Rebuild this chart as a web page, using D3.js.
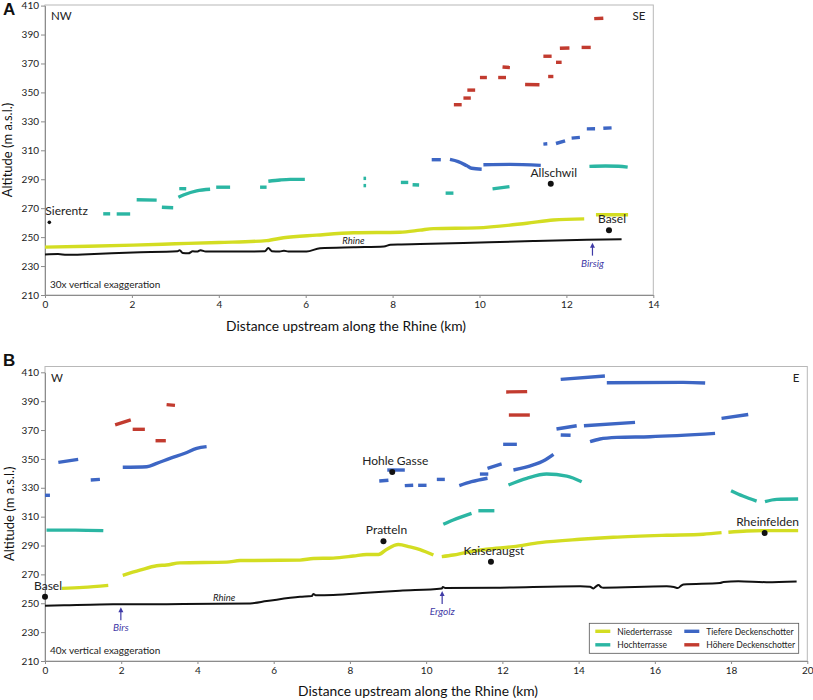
<!DOCTYPE html>
<html><head><meta charset="utf-8">
<script src="https://cdn.jsdelivr.net/npm/d3@7"></script>
<style>
body{margin:0;background:#fff}
svg{display:block}
text{font-family:Lato,"Open Sans",sans-serif}
</style>
</head><body>
<svg id="c" width="813" height="700"></svg>
<script>
// ---------- tick labels ----------
const altTicks = [210,230,250,270,290,310,330,350,370,390,410];
const aDistTicks = [0,2,4,6,8,10,12,14];
const bDistTicks = [0,2,4,6,8,10,12,14,16,18,20];

// ---------- legend categories ----------
const seriesNames = ["Niederterrasse","Hochterrasse","Tiefere Deckenschotter","Höhere Deckenschotter"];
const seriesColors = ["#d3dd22","#2bb6a3","#3d66c4","#c23b2f"];

// ---------- Panel A (NW–SE) : [distance km, altitude m] ----------
const aNieder = [
  [[0,243.1],[1,243.7],[2.03,244.5],[3,245.4],[4,246.3],[5.1,247.6],[5.49,249.6],[6.25,251.4],[7.1,253],[8.17,253.4],[8.63,254.8],[8.94,255.9],[9.94,256.4],[11.09,259.6],[11.7,261.8],[12.41,262.6]],
  [[12.68,265.5],[13.42,265.5]]
];
const aHoch = [
  [[1.34,266.1],[1.50,266.1]],
  [[1.65,266],[1.96,266]],
  [[2.11,275.8],[2.57,275.6]],
  [[2.69,270.6],[2.95,270.3]],
  [[3.09,283.5],[3.25,283.4]],
  [[3.07,277.6],[3.2,279.3],[3.49,282],[3.80,283.1]],
  [[3.94,284.5],[4.26,284.5]],
  [[4.95,284.5],[5.10,284.5]],
  [[5.14,288.6],[5.41,289.5],[5.64,289.9],[5.98,289.9]],
  [[7.33,290.6],[7.39,290.6]],
  [[7.33,285.6],[7.39,285.6]],
  [[8.19,287.8],[8.36,287.8]],
  [[8.46,286.2],[8.61,286]],
  [[9.22,280.4],[9.40,280.4]],
  [[10.30,283.3],[10.69,284.9]],
  [[12.53,298.9],[12.9,299.2],[13.2,299],[13.41,298.4]]
];
const aTiefere = [
  [[8.90,303.5],[9.11,303.5]],
  [[9.32,303.7],[9.51,302.2],[9.71,299.3],[9.82,297.6],[10.05,296.9]],
  [[10.09,300],[10.7,300.3],[11.41,299.6]],
  [[11.47,314.3],[11.56,314.5]],
  [[11.76,314.7],[11.97,316.5]],
  [[12.12,318.4],[12.31,318.9]],
  [[12.47,324.8],[12.66,324.9]],
  [[12.85,325.2],[13.04,325.5]]
];
const aHohere = [
  [[9.41,341.5],[9.59,341.5]],
  [[9.63,346.1],[9.80,346.1]],
  [[9.72,351.6],[9.90,351.6]],
  [[10.01,360.3],[10.17,360.3]],
  [[10.43,360.3],[10.61,360.3]],
  [[10.53,367.6],[10.70,367.2]],
  [[11.05,355.5],[11.38,355.3]],
  [[11.47,375],[11.66,375]],
  [[11.58,361],[11.70,361]],
  [[11.76,370.8],[11.89,370.8]],
  [[11.85,380.5],[12.07,380.7]],
  [[12.35,381.1],[12.56,381.1]],
  [[12.64,401],[12.85,401.3]]
];
const aRhine = [[0,238],[0.3,238.3],[0.5,237.8],[1,238.2],[2.03,239.4],[3.05,240.2],[3.1,241],[3.17,239],[3.3,238.8],[3.4,240.2],[3.5,240],[3.58,241],[3.7,240],[4.5,240],[5.06,240.2],[5.14,242.4],[5.22,240.3],[5.4,240],[5.5,240.6],[5.6,240],[6.02,240.1],[6.33,242.3],[7.1,243],[7.8,243.5],[7.95,244.7],[8.2,244.9],[8.63,245.2],[9.63,246],[11.24,247.3],[12.47,248.2],[13.27,248.6]];
const aPlaces = [{name:"Sierentz",d:0.1,alt:260.2,small:true},{name:"Allschwil",d:11.64,alt:286.8},{name:"Basel",d:12.98,alt:254.7}];
const aTribs = [{name:"Birsig",d:12.6}];

// ---------- Panel B (W–E) ----------
const bNieder = [
  [[0.44,260.3],[1.0,261],[1.66,262.4]],
  [[2.04,269.3],[2.49,272.9],[2.93,276],[3.19,276.5],[3.54,278],[4.77,278.5],[5.12,279.6],[6.69,279.9],[7.04,281],[7.56,281.3],[8.09,282.7],[8.44,283.8],[8.75,283.8],[8.96,287.3],[9.27,290.7],[9.57,289.1],[9.84,287.2],[10.19,283.4]],
  [[10.41,282.3],[10.71,283.4],[11.06,285.3],[11.59,287.4],[12.29,289.2],[12.99,292],[14.04,294.3],[14.91,295.7],[16.31,297.1],[17.27,297.8],[17.75,298.9]],
  [[17.93,299.2],[18.41,300.1],[18.93,300.3],[19.76,300.3]]
];
const bHoch = [
  [[0.04,300.7],[0.8,300.7],[1.53,300.3]],
  [[10.45,304.7],[10.71,307.7],[11.19,312.3]],
  [[11.37,314.1],[11.79,314.1]],
  [[12.16,331.9],[12.64,336.5],[13.16,339.5],[13.69,338.1],[14.08,334.2]],
  [[18.0,328],[18.31,324.3],[18.67,320.8]],
  [[18.89,320.4],[19.2,322],[19.76,322.2]]
];
const bTiefere = [
  [[0,324.8],[0.13,324.8]],
  [[0.35,347.6],[0.87,349.7]],
  [[1.2,335.4],[1.44,335.8]],
  [[2.04,344.2],[2.67,344.6],[2.93,346.9],[3.28,350.4],[3.67,353.9],[3.98,357.3],[4.24,358.5]],
  [[8.77,334.7],[9.01,335.2]],
  [[8.98,342.3],[9.44,342.3]],
  [[9.44,331.5],[9.66,331.8]],
  [[9.79,331.7],[10.01,331.7]],
  [[10.28,335.8],[10.49,335.8]],
  [[10.87,331.5],[11.19,334.2],[11.61,336.6]],
  [[11.41,339.5],[11.63,339.5]],
  [[11.61,343.5],[11.98,346.5]],
  [[12.02,360.1],[12.38,360.1]],
  [[12.29,342.3],[12.81,345.8],[13.07,348.5],[13.34,353.2]],
  [[13.42,370.7],[13.95,373]],
  [[13.53,366.6],[13.79,366.4]],
  [[14.14,373],[15.48,375.3]],
  [[14.3,361.9],[14.56,363.8],[15.0,364.9],[15.87,365.4],[17.58,367.7]],
  [[17.75,378.1],[18.45,380.8]],
  [[13.53,405.1],[14.69,407.4]],
  [[14.74,402.8],[16.75,403],[17.32,402.6]]
];
const bHohere = [
  [[1.84,373.5],[2.25,377]],
  [[2.3,370.5],[2.62,370.5]],
  [[2.9,362.6],[3.17,362.6]],
  [[3.19,387.6],[3.41,387.1]],
  [[12.1,396.4],[12.65,396.6]],
  [[12.17,380.4],[12.72,380.4]]
];
const bRhine = [[0,248.3],[0.5,248.6],[1.44,249.2],[3.19,249.4],[5.38,249.9],[5.82,251.5],[6.69,254.5],[7.0,255],[7.04,256.5],[7.1,255.6],[7.56,255.8],[8.44,257.2],[9.31,258.7],[10.41,260.3],[10.44,261.3],[10.5,260.5],[11.94,260.8],[14.04,261.7],[14.3,261.4],[14.39,260.3],[14.45,261.5],[14.52,262.6],[14.6,261],[14.65,260.8],[16.31,261.7],[16.5,261.3],[16.6,260.5],[16.7,262.4],[16.75,263],[17.71,264],[17.8,264.8],[18.19,265.3],[18.93,264.6],[19.72,265.1]];
const bPlaces = [{name:"Basel",d:0,alt:254.5},{name:"Pratteln",d:8.88,alt:292.9},{name:"Hohle Gasse",d:9.11,alt:340.9},{name:"Kaiseraugst",d:11.7,alt:278.8},{name:"Rheinfelden",d:18.88,alt:298.7}];
const bTribs = [{name:"Birs",d:1.99},{name:"Ergolz",d:10.42}];

// ---------- drawing ----------
const svg = d3.select("#c");
const tribColor = "#3f3aa6";

function drawPanel(p){
  const x = d3.scaleLinear().domain([0,p.xMax]).range([p.x0,p.x1]);
  const y = d3.scaleLinear().domain([210,410]).range([p.y1,p.y0]);
  const g = svg.append("g");

  g.append("rect").attr("x",p.x0).attr("y",p.frameTop)
    .attr("width",p.x1-p.x0).attr("height",p.y1-p.frameTop)
    .attr("fill","none").attr("stroke","#b8b8b8").attr("stroke-width",1);

  const ya = g.append("g").attr("transform",`translate(${p.x0},0)`)
    .call(d3.axisLeft(y).tickValues(altTicks).tickSize(4).tickSizeOuter(0).tickPadding(2));
  const xa = g.append("g").attr("transform",`translate(0,${p.y1})`)
    .call(d3.axisBottom(x).tickValues(p.ticks).tickSize(3).tickSizeOuter(0).tickPadding(3));
  [ya,xa].forEach(a=>{
    a.select(".domain").attr("stroke","#8c8c8c");
    a.selectAll(".tick line").attr("stroke","#8c8c8c");
    a.selectAll(".tick text").attr("fill","#222").style("font-size","10px").style("font-family","Lato, sans-serif");
  });

  const line = d3.line().x(d=>x(d[0])).y(d=>y(d[1])).curve(d3.curveMonotoneX);

  // Rhine
  g.append("path").datum(p.rhine).attr("d",line)
    .attr("fill","none").attr("stroke","#111").attr("stroke-width",2).attr("stroke-linejoin","round");

  p.series.forEach((segs,i)=>{
    g.append("g").selectAll("path").data(segs).join("path")
      .attr("d",line).attr("fill","none")
      .attr("stroke",seriesColors[i]).attr("stroke-width",3.4)
      .attr("stroke-linecap","butt").attr("stroke-linejoin","round");
  });

  // places
  p.places.forEach(pl=>{
    g.append("circle").attr("cx",x(pl.d)).attr("cy",y(pl.alt)).attr("r",pl.small?1.8:3).attr("fill","#111");
    g.append("text").attr("x",x(pl.d)+(pl.small?0:3)).attr("y",y(pl.alt)-7)
      .attr("text-anchor",pl.small?"start":"middle").attr("fill","#222")
      .style("font-size","12px").text(pl.name)
      .attr("dx",pl.small?-4:0);
  });

  // tributaries
  const rhineAt = d=>{ const r=p.rhine; for(let i=1;i<r.length;i++){ if(r[i][0]>=d){const t=(d-r[i-1][0])/(r[i][0]-r[i-1][0]); return r[i-1][1]+t*(r[i][1]-r[i-1][1]);} } return r[r.length-1][1]; };
  p.tribs.forEach(t=>{
    const tx = x(t.d), tip = y(rhineAt(t.d))+3;
    g.append("line").attr("x1",tx).attr("x2",tx).attr("y1",tip+13).attr("y2",tip+3)
      .attr("stroke",tribColor).attr("stroke-width",1.2);
    g.append("path").attr("d",`M${tx},${tip} L${tx-2.5},${tip+5} L${tx+2.5},${tip+5} Z`).attr("fill",tribColor);
    g.append("text").attr("x",tx).attr("y",tip+24).attr("text-anchor","middle")
      .attr("fill",tribColor).style("font-size","10px").style("font-style","italic").text(t.name);
  });

  // Rhine label
  g.append("text").attr("x",x(p.rhineLabelD)).attr("y",y(rhineAt(p.rhineLabelD))-3)
    .attr("text-anchor","middle").attr("fill","#222").style("font-size","9.5px").style("font-style","italic").text("Rhine");

  // direction labels
  g.append("text").attr("x",p.x0+6).attr("y",p.frameTop+15).attr("fill","#222").style("font-size","11.5px").text(p.dirL);
  g.append("text").attr("x",p.x1-8).attr("y",p.frameTop+15).attr("text-anchor","end").attr("fill","#222").style("font-size","11.5px").text(p.dirR);

  // exaggeration
  g.append("text").attr("x",p.x0+5).attr("y",p.y1-7).attr("fill","#222").style("font-size","10px").text(p.exag);

  // axis titles
  g.append("text").attr("transform",`translate(${p.yTitleX},${(p.frameTop+p.y1)/2}) rotate(-90)`)
    .attr("text-anchor","middle").attr("fill","#111").style("font-size","13px").text("Altitude (m a.s.l.)");
  g.append("text").attr("x",p.xTitleX).attr("y",p.xTitleY).attr("text-anchor","middle")
    .attr("fill","#111").style("font-size","13.8px").text("Distance upstream along the Rhine (km)");

  // panel letter
  g.append("text").attr("x",3).attr("y",p.letterY).attr("fill","#111")
    .style("font-size","17px").style("font-weight","bold").style("font-family","Arial, Liberation Sans, sans-serif").text(p.letter);

  if(p.legend){
    const L = p.legend;
    g.append("rect").attr("x",L.x).attr("y",L.y).attr("width",L.w).attr("height",L.h)
      .attr("fill","#fff").attr("stroke","#555").attr("stroke-width",0.8);
    [0,1,2,3].forEach(i=>{
      const col = i<2?0:1, row=i%2;
      const lx = L.x+6+col*89, ly = L.y+8+row*13.5;
      g.append("line").attr("x1",lx).attr("x2",lx+15).attr("y1",ly).attr("y2",ly)
        .attr("stroke",seriesColors[i]).attr("stroke-width",3.4);
      g.append("text").attr("x",lx+22).attr("y",ly+3.2).attr("fill","#222").style("font-size","8.5px").text(seriesNames[i]);
    });
  }
}

drawPanel({
  x0:45, x1:653.3, y0:5.6, y1:295, frameTop:5, xMax:14, ticks:aDistTicks,
  rhine:aRhine, series:[aNieder,aHoch,aTiefere,aHohere], places:aPlaces, tribs:aTribs,
  rhineLabelD:7.1, dirL:"NW", dirR:"SE", exag:"30x vertical exaggeration",
  yTitleX:12, xTitleX:346, xTitleY:331, letter:"A", letterY:15, legend:null
});
drawPanel({
  x0:45, x1:807.3, y0:372.3, y1:661, frameTop:366.5, xMax:20, ticks:bDistTicks,
  rhine:bRhine, series:[bNieder,bHoch,bTiefere,bHohere], places:bPlaces, tribs:bTribs,
  rhineLabelD:4.7, dirL:"W", dirR:"E", exag:"40x vertical exaggeration",
  yTitleX:14, xTitleX:418, xTitleY:696, letter:"B", letterY:366,
  legend:{x:589.3,y:623.3,w:209.4,h:30}
});
</script>
</body></html>
